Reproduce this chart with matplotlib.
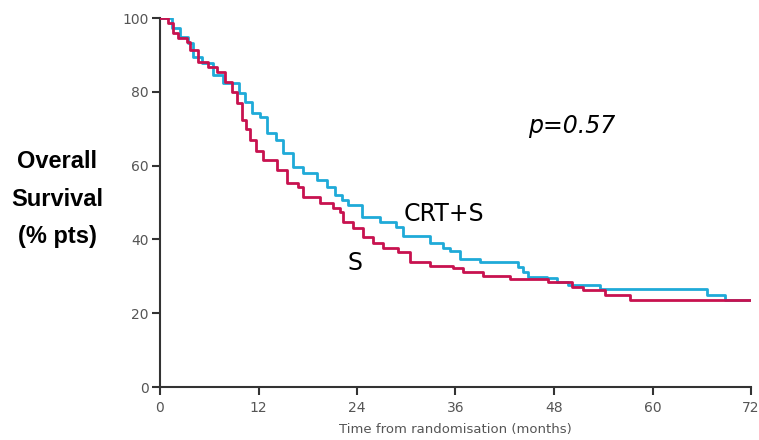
import matplotlib
matplotlib.use("Agg")
import matplotlib.pyplot as plt

# CRT+S (blue) Kaplan-Meier step points: months, survival %
crt_t = [0, 1.5, 2.4, 3.4, 4.0, 5.1, 6.5, 7.7, 9.6, 10.4, 11.2, 12.2, 13.0, 14.1, 15.0,
         16.2, 17.4, 19.1, 20.3, 21.3, 22.2, 22.9, 24.6, 26.8, 28.8, 29.6, 32.9, 34.5,
         35.3, 36.5, 39.0, 43.6, 44.2, 44.8, 47.1, 48.4, 49.7, 53.6, 66.6, 68.8, 72]
crt_s = [100, 97.3, 94.9, 93.2, 89.4, 87.8, 84.6, 82.4, 79.7, 77.2, 74.3, 73.2, 68.8, 66.9, 63.4,
         59.6, 58.0, 56.1, 54.2, 52.0, 50.7, 49.3, 46.0, 44.7, 43.4, 41.0, 39.0, 37.7,
         36.8, 34.7, 33.9, 32.5, 31.2, 29.8, 29.5, 28.5, 27.6, 26.5, 24.9, 23.6, 23.6]

# S (red)
s_t = [0, 1.0, 1.6, 2.2, 3.3, 3.7, 4.6, 5.8, 6.9, 7.9, 8.8, 9.4, 10.0, 10.5, 11.0, 11.7,
       12.5, 14.3, 15.5, 16.8, 17.4, 19.5, 21.1, 21.9, 22.3, 23.5, 24.7, 25.9, 27.2, 29.0,
       30.5, 32.9, 35.7, 36.9, 39.3, 42.6, 47.3, 50.2, 51.5, 54.2, 57.2, 72]
s_s = [100, 98.6, 95.9, 94.6, 93.5, 91.3, 88.0, 86.7, 85.4, 82.7, 80.0, 77.0, 72.4, 70.0, 66.9, 64.0,
       61.5, 58.8, 55.3, 54.2, 51.5, 49.9, 48.5, 47.4, 44.7, 43.0, 40.7, 39.0, 37.7, 36.6,
       33.9, 32.8, 32.2, 31.2, 30.1, 29.3, 28.5, 27.2, 26.3, 24.9, 23.6, 23.6]

x_ticks = [0, 12, 24, 36, 48, 60, 72]
y_ticks = [0, 20, 40, 60, 80, 100]

fig = plt.figure(figsize=(7.59, 4.40), dpi=100)
ax = fig.add_axes([160/759, 1-387/440, (751-160)/759, (387-18)/440])

blue = '#1FAAD8'
red = '#C8124F'
ax.step(crt_t, crt_s, where='post', color=blue, lw=2.0, zorder=2)
ax.step(s_t, s_s, where='post', color=red, lw=2.0, zorder=3)

ax.set_xlim(0, 72)
ax.set_ylim(0, 100)
ax.set_xticks(x_ticks)
ax.set_yticks(y_ticks)
for sp in ['top', 'right']:
    ax.spines[sp].set_visible(False)
for sp in ['left', 'bottom']:
    ax.spines[sp].set_color('#333333')
    ax.spines[sp].set_linewidth(1.5)
    ax.spines[sp].set_clip_on(False)
ax.tick_params(axis='both', direction='out', length=6, width=1.5, color='#333333',
               labelcolor='#555555', labelsize=10)
ax.tick_params(axis='x', pad=4)
ax.tick_params(axis='y', pad=2)
ax.set_xlabel('Time from randomisation (months)', color='#555555', fontsize=9.5,
              labelpad=6)

fig.text(57/759, 1-199/440, 'Overall\nSurvival\n(% pts)', ha='center', va='center',
         fontsize=17, fontweight='bold', color='black', linespacing=1.8,
         family='Liberation Sans')

ax.text(34.6, 47.0, 'CRT+S', fontsize=17, color='black', ha='center', va='center',
        family='DejaVu Sans')
ax.text(23.75, 33.6, 'S', fontsize=17, color='black', ha='center', va='center',
        family='DejaVu Sans')
ax.text(50.2, 70.8, 'p=0.57', fontsize=17, color='black', ha='center', va='center',
        style='italic', family='DejaVu Sans')

fig.savefig('out.png', dpi=100)
